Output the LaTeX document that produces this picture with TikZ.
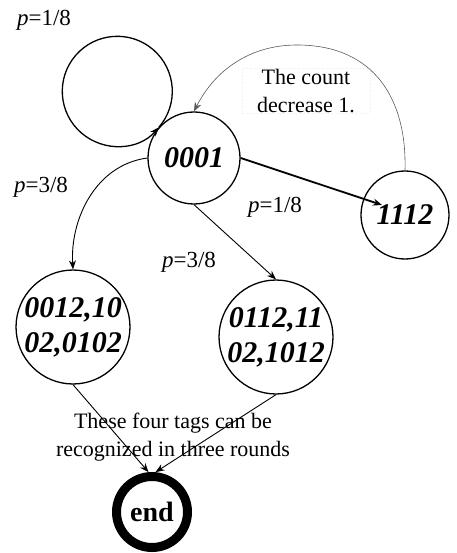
\documentclass[tikz,border=0pt]{standalone}
\usepackage{fontspec}
\setmainfont{Liberation Serif}
\usetikzlibrary{arrows.meta}
\begin{document}
\begin{tikzpicture}[x=1pt,y=1pt,
  state/.style={draw,circle,line width=1.3pt,inner sep=0pt,
    font=\fontsize{30}{35}\selectfont\bfseries\itshape,align=center},
  lbl/.style={font=\fontsize{23}{25}\selectfont,inner sep=0pt},
  note/.style={font=\fontsize{22}{28}\selectfont,align=center,inner sep=0pt},
  arr/.style={-{Stealth[length=9pt,width=7pt]}},
  link/.style={arr,line width=0.9pt}]
\useasboundingbox (0,0) rectangle (456,-553);

% states
\node[state,minimum size=92pt] (s0001) at (194,-158) {0001};
\node[state,minimum size=88pt] (s1112) at (405,-215) {1112};
\node[state,minimum size=100pt] (s0012) at (73,-327) {0012,10\\02,0102};
\node[state,minimum size=108pt] (s0112) at (276,-337) {0112,11\\02,1012};
\node[draw,circle,line width=9pt,minimum size=71pt,inner sep=0pt,
  font=\fontsize{28}{30}\selectfont\bfseries] (send) at (152,-512) {end};

% probability labels
\node[lbl] (p1) at (44,-20) {\textit{p}=1/8};
\node[lbl] (p2) at (41,-187) {\textit{p}=3/8};
\node[lbl] (p3) at (275,-207) {\textit{p}=1/8};
\node[lbl] (p4) at (189,-262) {\textit{p}=3/8};

% notes
\node[note,draw=gray!15,dotted,minimum width=128pt,minimum height=45pt] (cnt) at (306,-91) {The count\\decrease 1.};
\node[note] (four) at (173,-437) {These four tags can be\\recognized in three rounds};

% self loop: a full circle touching the state
\draw[link,line width=1.3pt] (s0001.139) arc[start angle=-41,end angle=319,radius=55];

% transitions
\coordinate (tip1112) at (382,-205);
\coordinate (arctop) at (297,-45);
\draw[link,line width=1.8pt] (s0001.east) -- (tip1112);
\draw[link] (s0001.west) .. controls (95,-165) and (70,-220) .. (s0012.north);
\draw[link] (s0001.south) -- (s0112.north);
\draw[arr,line width=0.6pt,draw=black!65] (s1112.north) .. controls (407,-100) and (375,-45) .. (arctop)
  .. controls (250,-45) and (215,-70) .. (s0001.north);
\draw[link] (s0012.south) -- (send.95);
\draw[link] (s0112.south) -- (send.85);
\end{tikzpicture}
\end{document}
